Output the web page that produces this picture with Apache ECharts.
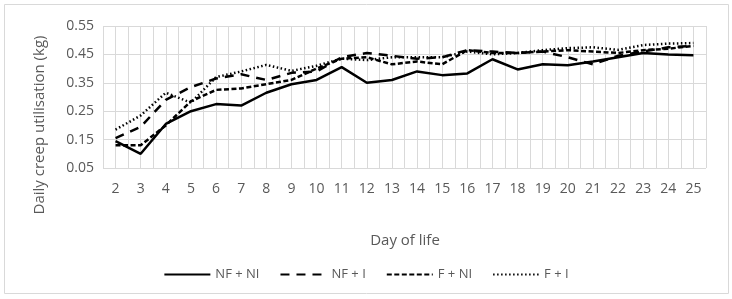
<!DOCTYPE html>
<html>
<head>
<meta charset="utf-8">
<script src="https://cdn.jsdelivr.net/npm/echarts@6/dist/echarts.min.js"></script>
<style>html,body{margin:0;padding:0;background:#fff}#c{width:732px;height:299px}</style>
</head>
<body>
<div id="c"></div>
<script>
const days = ['2','3','4','5','6','7','8','9','10','11','12','13','14','15','16','17','18','19','20','21','22','23','24','25'];
const yTicks = [0.05, 0.15, 0.25, 0.35, 0.45, 0.55];
const nfNi = [0.145,0.10,0.205,0.25,0.275,0.27,0.315,0.345,0.36,0.405,0.35,0.36,0.39,0.377,0.383,0.433,0.397,0.415,0.412,0.425,0.44,0.455,0.45,0.447];
const nfI  = [0.155,0.195,0.29,0.335,0.365,0.38,0.36,0.385,0.39,0.44,0.455,0.445,0.435,0.44,0.465,0.46,0.455,0.46,0.44,0.415,0.445,0.46,0.475,0.48];
const fNi  = [0.13,0.13,0.2,0.285,0.325,0.33,0.345,0.36,0.40,0.435,0.44,0.415,0.425,0.415,0.465,0.455,0.455,0.46,0.465,0.46,0.455,0.465,0.47,0.48];
const fI   = [0.185,0.235,0.315,0.28,0.37,0.39,0.413,0.392,0.41,0.435,0.43,0.44,0.44,0.44,0.46,0.45,0.455,0.465,0.472,0.475,0.466,0.483,0.488,0.49];
const names = ['NF + NI','NF + I','F + NI','F + I'];

const font = 'Open Sans';
const grey = '#595959';
const chart = echarts.init(document.getElementById('c'));
function ser(name, data, type){
  return {name, type:'line', data, xAxisIndex:0, yAxisIndex:0, symbol:'none', showSymbol:false,
    lineStyle:{color:'#000', width:2.5, type}, itemStyle:{color:'#000'}, animation:false};
}
chart.setOption({
  animation:false,
  grid:{left:103, right:26, top:26, bottom:131},
  graphic:[
    {type:'rect', shape:{x:4.5,y:4.5,width:724,height:289}, style:{fill:'none', stroke:'#d9d9d9', lineWidth:1}, z:-10},
    {type:'text', x:40, y:125, rotation:Math.PI/2, style:{text:'Daily creep utilisation (kg)', fill:grey, font:'15px "'+font+'"', align:'center', verticalAlign:'middle'}},
    {type:'text', x:405, y:241, style:{text:'Day of life', fill:grey, font:'15px "'+font+'"', align:'center', verticalAlign:'middle'}}
  ],
  legend:{data:names, left:'center', top:263, itemWidth:46, itemHeight:10, itemGap:20,
    itemStyle:{opacity:0, borderWidth:0},
    textStyle:{color:grey, fontFamily:font, fontSize:13}},
  xAxis:[
    {type:'category', data:days, boundaryGap:true, axisLine:{show:false}, axisTick:{show:false},
     splitLine:{show:false}, axisLabel:{color:grey, fontFamily:font, fontSize:14, margin:14}},
    {type:'value', min:1.5, max:25.5, interval:0.5, show:true, position:'bottom',
     axisLine:{show:false}, axisTick:{show:false}, axisLabel:{show:false},
     splitLine:{show:true, lineStyle:{color:'#d9d9d9', width:1}}}
  ],
  yAxis:{type:'value', min:yTicks[0], max:yTicks[yTicks.length-1], interval:0.1,
    axisLine:{show:false}, axisTick:{show:false},
    axisLabel:{color:grey, fontFamily:font, fontSize:14, margin:9, formatter:v=>v.toFixed(2)},
    splitLine:{lineStyle:{color:'#d9d9d9', width:1}}},
  series:[
    ser(names[0], nfNi, 'solid'),
    ser(names[1], nfI, [9,7]),
    ser(names[2], fNi, [5,2.5]),
    ser(names[3], fI, [1.5,2.5])
  ]
});
</script>
</body>
</html>
